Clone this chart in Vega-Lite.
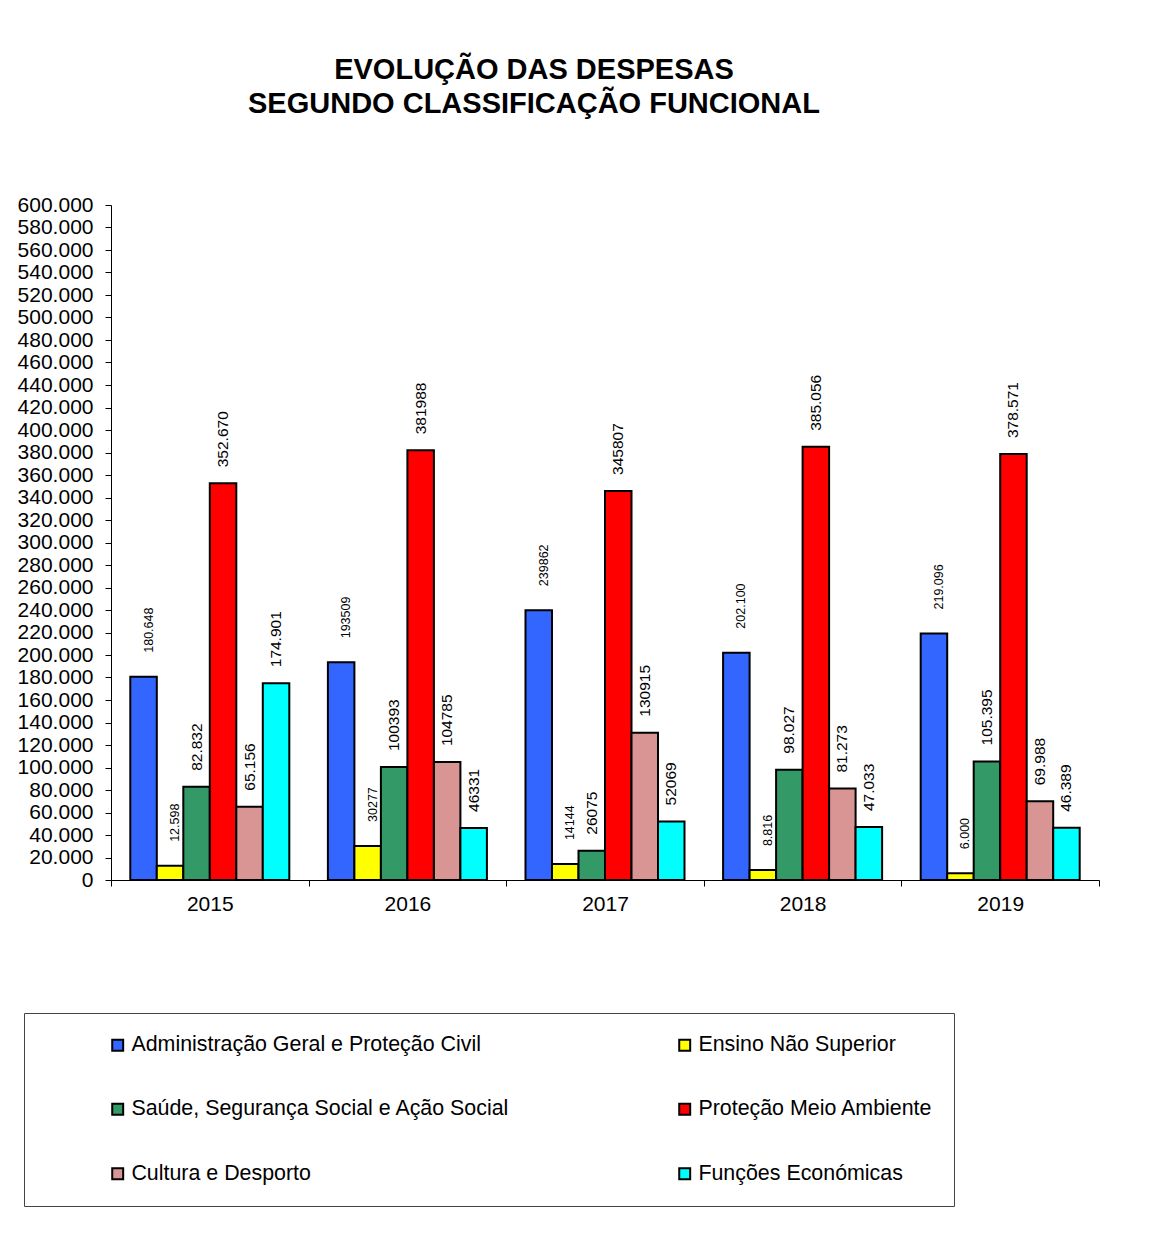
{
  "$schema": "https://vega.github.io/schema/vega-lite/v6.json",
  "autosize": "none",
  "width": 988,
  "height": 675,
  "padding": {"left": 111, "top": 205, "right": 52, "bottom": 369},
  "background": "white",
  "config": {
    "locale": {"number": {"decimal": ",", "thousands": ".", "grouping": [3], "currency": ["", " €"]}},
    "view": {"stroke": null},
    "font": "Liberation Sans"
  },
  "title": {
    "text": ["EVOLUÇÃO DAS DESPESAS", "SEGUNDO CLASSIFICAÇÃO FUNCIONAL"],
    "font": "Liberation Sans",
    "fontSize": 29,
    "fontWeight": "bold",
    "color": "black",
    "anchor": "middle",
    "frame": "group",
    "dx": -71,
    "offset": 75,
    "lineHeight": 34
  },
  "data": {
    "values": [
      {"ano": "2015", "serie": "Administração Geral e Proteção Civil", "valor": 180648, "rotulo": "180.648"},
      {"ano": "2015", "serie": "Ensino Não Superior", "valor": 12598, "rotulo": "12.598"},
      {"ano": "2015", "serie": "Saúde, Segurança Social e Ação Social", "valor": 82832, "rotulo": "82.832"},
      {"ano": "2015", "serie": "Proteção Meio Ambiente", "valor": 352670, "rotulo": "352.670"},
      {"ano": "2015", "serie": "Cultura e Desporto", "valor": 65156, "rotulo": "65.156"},
      {"ano": "2015", "serie": "Funções Económicas", "valor": 174901, "rotulo": "174.901"},
      {"ano": "2016", "serie": "Administração Geral e Proteção Civil", "valor": 193509, "rotulo": "193509"},
      {"ano": "2016", "serie": "Ensino Não Superior", "valor": 30277, "rotulo": "30277"},
      {"ano": "2016", "serie": "Saúde, Segurança Social e Ação Social", "valor": 100393, "rotulo": "100393"},
      {"ano": "2016", "serie": "Proteção Meio Ambiente", "valor": 381988, "rotulo": "381988"},
      {"ano": "2016", "serie": "Cultura e Desporto", "valor": 104785, "rotulo": "104785"},
      {"ano": "2016", "serie": "Funções Económicas", "valor": 46331, "rotulo": "46331"},
      {"ano": "2017", "serie": "Administração Geral e Proteção Civil", "valor": 239862, "rotulo": "239862"},
      {"ano": "2017", "serie": "Ensino Não Superior", "valor": 14144, "rotulo": "14144"},
      {"ano": "2017", "serie": "Saúde, Segurança Social e Ação Social", "valor": 26075, "rotulo": "26075"},
      {"ano": "2017", "serie": "Proteção Meio Ambiente", "valor": 345807, "rotulo": "345807"},
      {"ano": "2017", "serie": "Cultura e Desporto", "valor": 130915, "rotulo": "130915"},
      {"ano": "2017", "serie": "Funções Económicas", "valor": 52069, "rotulo": "52069"},
      {"ano": "2018", "serie": "Administração Geral e Proteção Civil", "valor": 202100, "rotulo": "202.100"},
      {"ano": "2018", "serie": "Ensino Não Superior", "valor": 8816, "rotulo": "8.816"},
      {"ano": "2018", "serie": "Saúde, Segurança Social e Ação Social", "valor": 98027, "rotulo": "98.027"},
      {"ano": "2018", "serie": "Proteção Meio Ambiente", "valor": 385056, "rotulo": "385.056"},
      {"ano": "2018", "serie": "Cultura e Desporto", "valor": 81273, "rotulo": "81.273"},
      {"ano": "2018", "serie": "Funções Económicas", "valor": 47033, "rotulo": "47.033"},
      {"ano": "2019", "serie": "Administração Geral e Proteção Civil", "valor": 219096, "rotulo": "219.096"},
      {"ano": "2019", "serie": "Ensino Não Superior", "valor": 6000, "rotulo": "6.000"},
      {"ano": "2019", "serie": "Saúde, Segurança Social e Ação Social", "valor": 105395, "rotulo": "105.395"},
      {"ano": "2019", "serie": "Proteção Meio Ambiente", "valor": 378571, "rotulo": "378.571"},
      {"ano": "2019", "serie": "Cultura e Desporto", "valor": 69988, "rotulo": "69.988"},
      {"ano": "2019", "serie": "Funções Económicas", "valor": 46389, "rotulo": "46.389"}
    ]
  },
  "encoding": {
    "x": {
      "field": "ano", "type": "nominal", "title": null,
      "scale": {"paddingInner": 0, "paddingOuter": 0},
      "axis": {
        "labelAngle": 0, "labelFontSize": 21, "labelColor": "black", "labelPadding": 7,
        "tickBand": "extent", "tickSize": 6, "tickColor": "black", "domainColor": "black", "grid": false
      }
    },
    "xOffset": {
      "field": "serie", "type": "nominal",
      "sort": ["Administração Geral e Proteção Civil", "Ensino Não Superior", "Saúde, Segurança Social e Ação Social", "Proteção Meio Ambiente", "Cultura e Desporto", "Funções Económicas"],
      "scale": {"paddingInner": 0, "paddingOuter": 0.728}
    },
    "y": {
      "field": "valor", "type": "quantitative", "title": null,
      "scale": {"domain": [0, 600000], "nice": false},
      "axis": {
        "values": [0, 20000, 40000, 60000, 80000, 100000, 120000, 140000, 160000, 180000, 200000, 220000, 240000, 260000, 280000, 300000, 320000, 340000, 360000, 380000, 400000, 420000, 440000, 460000, 480000, 500000, 520000, 540000, 560000, 580000, 600000],
        "format": ",.0f", "labelFontSize": 21, "labelColor": "black", "labelPadding": 12,
        "tickSize": 6, "tickColor": "black", "domainColor": "black", "grid": false
      }
    }
  },
  "layer": [
    {
      "mark": {"type": "bar", "stroke": "black", "strokeWidth": 2},
      "encoding": {
        "color": {
          "field": "serie", "type": "nominal",
          "sort": ["Administração Geral e Proteção Civil", "Ensino Não Superior", "Saúde, Segurança Social e Ação Social", "Proteção Meio Ambiente", "Cultura e Desporto", "Funções Económicas"],
          "scale": {
            "domain": ["Administração Geral e Proteção Civil", "Ensino Não Superior", "Saúde, Segurança Social e Ação Social", "Proteção Meio Ambiente", "Cultura e Desporto", "Funções Económicas"],
            "range": ["#3366FF", "#FFFF00", "#339966", "#FF0000", "#D99594", "#00FFFF"]
          },
          "legend": {
            "orient": "none", "legendX": -87, "legendY": 808,
            "direction": "horizontal", "columns": 2, "gridAlign": "all",
            "columnPadding": 164, "rowPadding": 41.5,
            "title": " ", "titleOrient": "left", "titlePadding": 62, "titleFontSize": 20,
            "padding": 21, "strokeColor": "#444", "fillColor": "white",
            "symbolType": "square", "symbolSize": 120, "symbolStrokeColor": "black", "symbolStrokeWidth": 2, "symbolOpacity": 1,
            "labelFontSize": 21.4, "labelColor": "black", "labelLimit": 600, "labelOffset": 3
          }
        }
      }
    },
    {
      "transform": [{"filter": "datum.serie == 'Administração Geral e Proteção Civil' || datum.serie == 'Ensino Não Superior'"}],
      "mark": {"type": "text", "angle": 270, "align": "left", "baseline": "middle", "dx": 24, "dy": 5, "fontSize": 12.5, "color": "black"},
      "encoding": {"text": {"field": "rotulo"}}
    },
    {
      "transform": [{"filter": "datum.serie != 'Administração Geral e Proteção Civil' && datum.serie != 'Ensino Não Superior'"}],
      "mark": {"type": "text", "angle": 270, "align": "left", "baseline": "middle", "dx": 16, "fontSize": 15.5, "color": "black"},
      "encoding": {"text": {"field": "rotulo"}}
    }
  ]
}
